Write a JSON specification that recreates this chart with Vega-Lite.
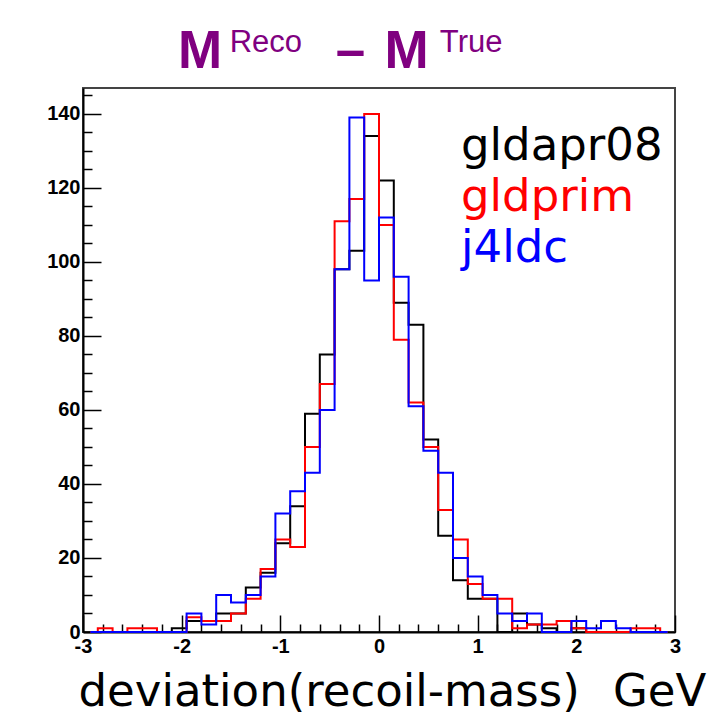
{
  "$schema": "https://vega.github.io/schema/vega-lite/v6.json",
  "width": 592,
  "height": 544,
  "autosize": {"type": "none"},
  "padding": {"left": 83, "top": 88, "right": 38, "bottom": 90},
  "background": "white",
  "title": {
    "text": "M\u00a0\u00a0\u00a0\u00a0\u00a0\u00a0\u00a0\u2009\u2013\u00a0\u200aM",
    "subtitle": "\u200b\u00a0\u00a0\u00a0\u00a0\u00a0\u00a0Reco\u00a0\u00a0\u00a0\u00a0\u00a0\u00a0\u00a0\u00a0\u00a0\u00a0\u00a0\u00a0\u00a0\u00a0\u00a0\u00a0True",
    "color": "#800080",
    "subtitleColor": "#800080",
    "font": "Liberation Sans",
    "subtitleFont": "Liberation Sans",
    "fontSize": 53,
    "subtitleFontSize": 31,
    "fontWeight": "bold",
    "subtitleFontWeight": "normal",
    "anchor": "start",
    "frame": "group",
    "dx": 95,
    "dy": -6,
    "baseline": "top",
    "offset": 0,
    "subtitlePadding": -51
  },
  "config": {
    "view": {"stroke": "#444444", "strokeWidth": 2},
    "axis": {"grid": false}
  },
  "data": {
    "values": [
      {"deviation": -2.925, "version": "gldapr08", "count": 0},
      {"deviation": -2.775, "version": "gldapr08", "count": 0},
      {"deviation": -2.625, "version": "gldapr08", "count": 0},
      {"deviation": -2.475, "version": "gldapr08", "count": 0},
      {"deviation": -2.325, "version": "gldapr08", "count": 0},
      {"deviation": -2.175, "version": "gldapr08", "count": 0},
      {"deviation": -2.025, "version": "gldapr08", "count": 1},
      {"deviation": -1.875, "version": "gldapr08", "count": 3},
      {"deviation": -1.725, "version": "gldapr08", "count": 3},
      {"deviation": -1.575, "version": "gldapr08", "count": 5},
      {"deviation": -1.425, "version": "gldapr08", "count": 5},
      {"deviation": -1.275, "version": "gldapr08", "count": 12},
      {"deviation": -1.125, "version": "gldapr08", "count": 16},
      {"deviation": -0.975, "version": "gldapr08", "count": 24},
      {"deviation": -0.825, "version": "gldapr08", "count": 34},
      {"deviation": -0.675, "version": "gldapr08", "count": 59},
      {"deviation": -0.525, "version": "gldapr08", "count": 75},
      {"deviation": -0.375, "version": "gldapr08", "count": 98},
      {"deviation": -0.225, "version": "gldapr08", "count": 103},
      {"deviation": -0.075, "version": "gldapr08", "count": 134},
      {"deviation": 0.075, "version": "gldapr08", "count": 122},
      {"deviation": 0.225, "version": "gldapr08", "count": 89},
      {"deviation": 0.375, "version": "gldapr08", "count": 83},
      {"deviation": 0.525, "version": "gldapr08", "count": 52},
      {"deviation": 0.675, "version": "gldapr08", "count": 26},
      {"deviation": 0.825, "version": "gldapr08", "count": 14},
      {"deviation": 0.975, "version": "gldapr08", "count": 9},
      {"deviation": 1.125, "version": "gldapr08", "count": 9},
      {"deviation": 1.275, "version": "gldapr08", "count": 0},
      {"deviation": 1.425, "version": "gldapr08", "count": 5},
      {"deviation": 1.575, "version": "gldapr08", "count": 2},
      {"deviation": 1.725, "version": "gldapr08", "count": 1},
      {"deviation": 1.875, "version": "gldapr08", "count": 0},
      {"deviation": 2.025, "version": "gldapr08", "count": 1},
      {"deviation": 2.175, "version": "gldapr08", "count": 0},
      {"deviation": 2.325, "version": "gldapr08", "count": 0},
      {"deviation": 2.475, "version": "gldapr08", "count": 0},
      {"deviation": 2.625, "version": "gldapr08", "count": 0},
      {"deviation": 2.775, "version": "gldapr08", "count": 0},
      {"deviation": 2.925, "version": "gldapr08", "count": 0},
      {"deviation": -2.925, "version": "gldprim", "count": 0},
      {"deviation": -2.775, "version": "gldprim", "count": 1},
      {"deviation": -2.625, "version": "gldprim", "count": 0},
      {"deviation": -2.475, "version": "gldprim", "count": 1},
      {"deviation": -2.325, "version": "gldprim", "count": 1},
      {"deviation": -2.175, "version": "gldprim", "count": 0},
      {"deviation": -2.025, "version": "gldprim", "count": 0},
      {"deviation": -1.875, "version": "gldprim", "count": 4},
      {"deviation": -1.725, "version": "gldprim", "count": 3},
      {"deviation": -1.575, "version": "gldprim", "count": 3},
      {"deviation": -1.425, "version": "gldprim", "count": 5},
      {"deviation": -1.275, "version": "gldprim", "count": 9},
      {"deviation": -1.125, "version": "gldprim", "count": 17},
      {"deviation": -0.975, "version": "gldprim", "count": 25},
      {"deviation": -0.825, "version": "gldprim", "count": 23},
      {"deviation": -0.675, "version": "gldprim", "count": 50},
      {"deviation": -0.525, "version": "gldprim", "count": 67},
      {"deviation": -0.375, "version": "gldprim", "count": 111},
      {"deviation": -0.225, "version": "gldprim", "count": 117},
      {"deviation": -0.075, "version": "gldprim", "count": 140},
      {"deviation": 0.075, "version": "gldprim", "count": 110},
      {"deviation": 0.225, "version": "gldprim", "count": 79},
      {"deviation": 0.375, "version": "gldprim", "count": 62},
      {"deviation": 0.525, "version": "gldprim", "count": 50},
      {"deviation": 0.675, "version": "gldprim", "count": 33},
      {"deviation": 0.825, "version": "gldprim", "count": 25},
      {"deviation": 0.975, "version": "gldprim", "count": 13},
      {"deviation": 1.125, "version": "gldprim", "count": 9},
      {"deviation": 1.275, "version": "gldprim", "count": 9},
      {"deviation": 1.425, "version": "gldprim", "count": 1},
      {"deviation": 1.575, "version": "gldprim", "count": 2},
      {"deviation": 1.725, "version": "gldprim", "count": 2},
      {"deviation": 1.875, "version": "gldprim", "count": 3},
      {"deviation": 2.025, "version": "gldprim", "count": 1},
      {"deviation": 2.175, "version": "gldprim", "count": 0},
      {"deviation": 2.325, "version": "gldprim", "count": 0},
      {"deviation": 2.475, "version": "gldprim", "count": 0},
      {"deviation": 2.625, "version": "gldprim", "count": 1},
      {"deviation": 2.775, "version": "gldprim", "count": 1},
      {"deviation": 2.925, "version": "gldprim", "count": 0},
      {"deviation": -2.925, "version": "j4ldc", "count": 0},
      {"deviation": -2.775, "version": "j4ldc", "count": 0},
      {"deviation": -2.625, "version": "j4ldc", "count": 0},
      {"deviation": -2.475, "version": "j4ldc", "count": 0},
      {"deviation": -2.325, "version": "j4ldc", "count": 0},
      {"deviation": -2.175, "version": "j4ldc", "count": 0},
      {"deviation": -2.025, "version": "j4ldc", "count": 0},
      {"deviation": -1.875, "version": "j4ldc", "count": 5},
      {"deviation": -1.725, "version": "j4ldc", "count": 2},
      {"deviation": -1.575, "version": "j4ldc", "count": 10},
      {"deviation": -1.425, "version": "j4ldc", "count": 8},
      {"deviation": -1.275, "version": "j4ldc", "count": 10},
      {"deviation": -1.125, "version": "j4ldc", "count": 15},
      {"deviation": -0.975, "version": "j4ldc", "count": 32},
      {"deviation": -0.825, "version": "j4ldc", "count": 38},
      {"deviation": -0.675, "version": "j4ldc", "count": 43},
      {"deviation": -0.525, "version": "j4ldc", "count": 60},
      {"deviation": -0.375, "version": "j4ldc", "count": 98},
      {"deviation": -0.225, "version": "j4ldc", "count": 139},
      {"deviation": -0.075, "version": "j4ldc", "count": 95},
      {"deviation": 0.075, "version": "j4ldc", "count": 112},
      {"deviation": 0.225, "version": "j4ldc", "count": 96},
      {"deviation": 0.375, "version": "j4ldc", "count": 61},
      {"deviation": 0.525, "version": "j4ldc", "count": 49},
      {"deviation": 0.675, "version": "j4ldc", "count": 43},
      {"deviation": 0.825, "version": "j4ldc", "count": 20},
      {"deviation": 0.975, "version": "j4ldc", "count": 15},
      {"deviation": 1.125, "version": "j4ldc", "count": 10},
      {"deviation": 1.275, "version": "j4ldc", "count": 5},
      {"deviation": 1.425, "version": "j4ldc", "count": 3},
      {"deviation": 1.575, "version": "j4ldc", "count": 5},
      {"deviation": 1.725, "version": "j4ldc", "count": 0},
      {"deviation": 1.875, "version": "j4ldc", "count": 0},
      {"deviation": 2.025, "version": "j4ldc", "count": 3},
      {"deviation": 2.175, "version": "j4ldc", "count": 1},
      {"deviation": 2.325, "version": "j4ldc", "count": 3},
      {"deviation": 2.475, "version": "j4ldc", "count": 1},
      {"deviation": 2.625, "version": "j4ldc", "count": 0},
      {"deviation": 2.775, "version": "j4ldc", "count": 0},
      {"deviation": 2.925, "version": "j4ldc", "count": 0}
    ]
  },
  "mark": {"type": "line", "interpolate": "step", "strokeWidth": 2},
  "encoding": {
    "x": {
      "field": "deviation",
      "type": "quantitative",
      "scale": {"domain": [-3, 3], "nice": false, "zero": false},
      "axis": {
        "values": [-3, -2.8, -2.6, -2.4, -2.2, -2, -1.8, -1.6, -1.4, -1.2, -1, -0.8, -0.6, -0.4, -0.2, 0, 0.2, 0.4, 0.6, 0.8, 1, 1.2, 1.4, 1.6, 1.8, 2, 2.2, 2.4, 2.6, 2.8, 3],
        "labelExpr": "datum.value % 1 === 0 ? '' + datum.value : ''",
        "tickSize": {"condition": {"test": "datum.value % 1 === 0", "value": -17}, "value": -8},
        "tickColor": "#000000",
        "tickWidth": 1.5,
        "domainColor": "#000000",
        "domainWidth": 2,
        "labelFont": "Liberation Sans",
        "labelFontSize": 20,
        "labelFontWeight": "bold",
        "labelColor": "#000000",
        "labelPadding": 21,
        "labelFlush": false,
        "labelOverlap": false,
        "title": "deviation(recoil-mass)\u00a0\u00a0\u200aGeV",
        "titleFont": "DejaVu Sans",
        "titleFontSize": 45,
        "titleFontWeight": "normal",
        "titleColor": "#000000",
        "titleAlign": "left",
        "titleAnchor": "start",
        "titleX": -5,
        "titleY": 73,
        "titleBaseline": "alphabetic"
      }
    },
    "y": {
      "field": "count",
      "type": "quantitative",
      "scale": {"domain": [0, 147], "nice": false},
      "axis": {
        "values": [0, 5, 10, 15, 20, 25, 30, 35, 40, 45, 50, 55, 60, 65, 70, 75, 80, 85, 90, 95, 100, 105, 110, 115, 120, 125, 130, 135, 140, 145],
        "labelExpr": "datum.value % 20 === 0 ? '' + datum.value : ''",
        "tickSize": {"condition": {"test": "datum.value % 20 === 0", "value": -18}, "value": -9},
        "tickColor": "#000000",
        "tickWidth": 1.5,
        "domainColor": "#000000",
        "domainWidth": 2,
        "labelFont": "Liberation Sans",
        "labelFontSize": 20,
        "labelFontWeight": "bold",
        "labelColor": "#000000",
        "labelPadding": 21,
        "labelFlush": false,
        "labelOverlap": false,
        "title": null
      }
    },
    "color": {
      "field": "version",
      "type": "nominal",
      "scale": {"domain": ["gldapr08", "gldprim", "j4ldc"], "range": ["#000000", "#ff0000", "#0000ff"]},
      "legend": {
        "title": null,
        "orient": "none",
        "legendX": 333,
        "legendY": 35,
        "padding": 0,
        "symbolSize": 0,
        "symbolOpacity": 0,
        "symbolStrokeWidth": 0,
        "labelOffset": 0,
        "labelLimit": 600,
        "labelFont": "DejaVu Sans",
        "labelFontSize": 45,
        "rowPadding": 5,
        "encode": {"labels": {"update": {"fill": {"scale": "color", "field": "value"}}}}
      }
    }
  }
}
